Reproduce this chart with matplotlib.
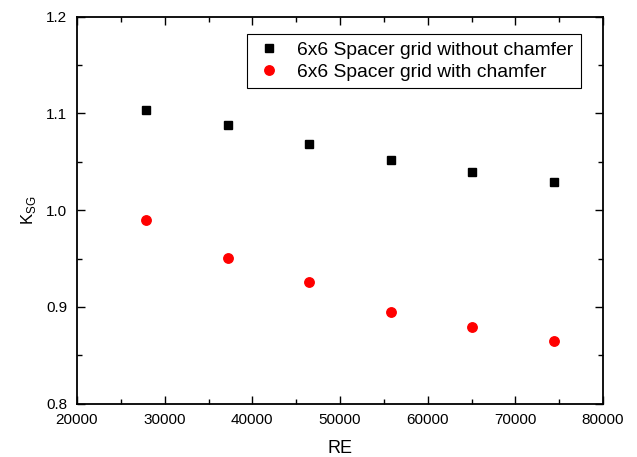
import numpy as np
import matplotlib; matplotlib.use('Agg')
import matplotlib.pyplot as plt
from matplotlib.ticker import MultipleLocator

# --- Donnees ---
re = [27900, 37200, 46500, 55800, 65100, 74400]
k_sans = [1.104, 1.088, 1.068, 1.052, 1.040, 1.029]
k_avec = [0.990, 0.951, 0.926, 0.895, 0.879, 0.865]
lab_sans = '6x6 Spacer grid without chamfer'
lab_avec = '6x6 Spacer grid with chamfer'

plt.rcParams['font.family'] = ['Liberation Sans', 'DejaVu Sans']

fig = plt.figure(figsize=(6.37, 4.57), dpi=100)
ax = fig.add_axes([77/637, 1 - 403.7/457, (603-77)/637, (403.7-16.7)/457])

ax.plot(re, k_sans, 's', color='black', ms=5.8, mec='black', label=lab_sans)
ax.plot(re, k_avec, 'o', color='red', ms=6.8, mec='red', label=lab_avec)

ax.set_xlim(20000, 80000)
ax.set_ylim(0.8, 1.2)
ax.xaxis.set_major_locator(MultipleLocator(10000))
ax.xaxis.set_minor_locator(MultipleLocator(5000))
ax.yaxis.set_major_locator(MultipleLocator(0.1))
ax.yaxis.set_minor_locator(MultipleLocator(0.05))
ax.tick_params(which='both', direction='in', top=True, right=True, labelsize=11)
ax.tick_params(which='major', length=6, width=1)
ax.tick_params(which='minor', length=3.5, width=1)
ax.tick_params(axis='x', which='major', pad=7)
ax.tick_params(axis='y', which='major', pad=7)
for s in ax.spines.values():
    s.set_linewidth(1.3)

ax.set_xlabel('RE', fontsize=13, labelpad=9)
ax.set_ylabel('K$_\\mathregular{SG}$', fontsize=12, labelpad=6)

leg = ax.legend(loc='upper left', bbox_to_anchor=(0.323, 0.955), bbox_transform=ax.transAxes,
                borderaxespad=0, fontsize=13.85,
                fancybox=False, edgecolor='black', framealpha=1,
                handletextpad=0.7, borderpad=0.38, labelspacing=0.22, handlelength=1.55)
leg.get_frame().set_linewidth(0.8)

plt.savefig('out.png', dpi=100)
